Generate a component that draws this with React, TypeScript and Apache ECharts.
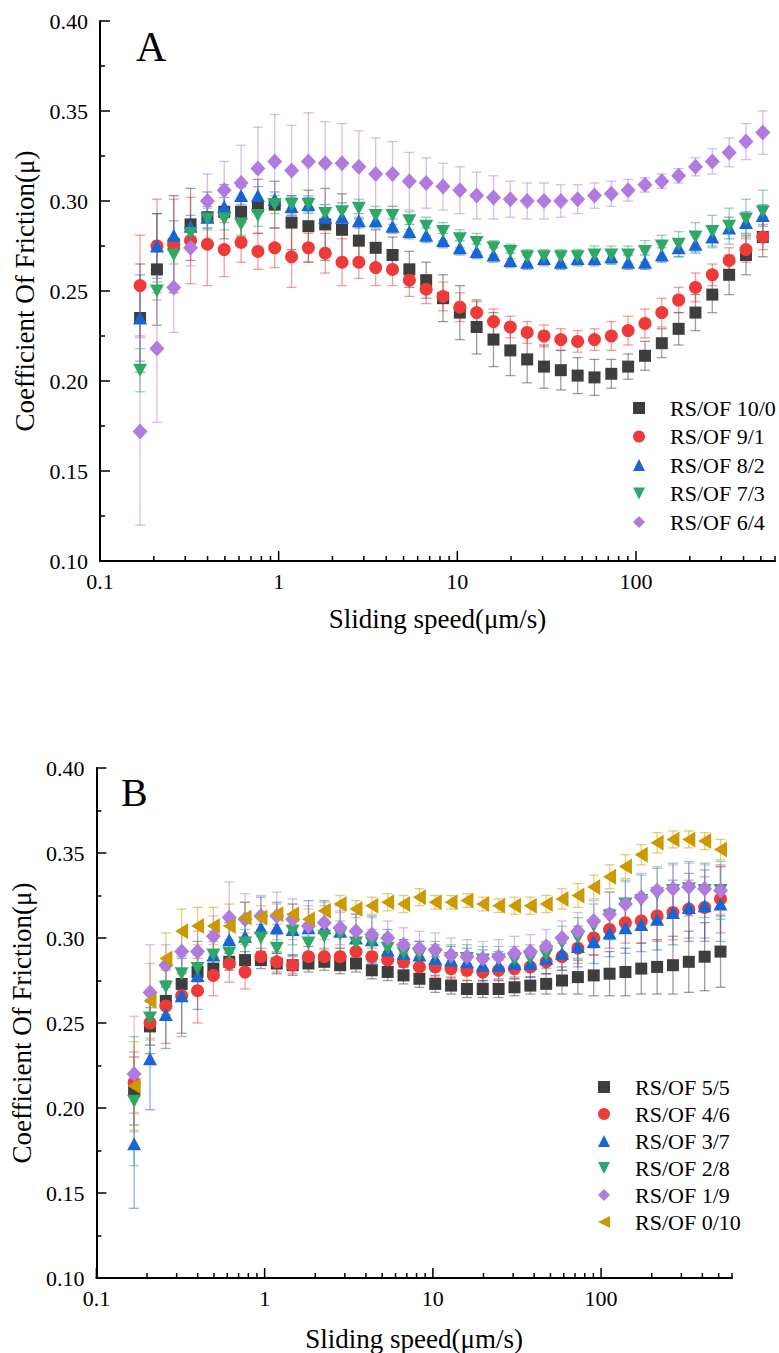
import React, { useEffect, useRef } from "react";
import * as echarts from "echarts";

const FONT = '"Liberation Serif", "Times New Roman", serif';

// Sliding speeds (µm/s), shared by both panels
const SPEEDS = [
  0.1676, 0.2083, 0.2587, 0.3212, 0.3992, 0.4958, 0.6161, 0.7651, 0.9504, 1.181,
  1.467, 1.822, 2.263, 2.811, 3.492, 4.338, 5.389, 6.694, 8.316, 10.33,
  12.83, 15.94, 19.8, 24.6, 30.56, 37.96, 47.15, 58.58, 72.77, 90.4,
  112.3, 139.5, 173.3, 215.3, 267.4, 332.2, 412.7, 512.7,
];

// Panel A
const A_10_0 = [0.235, 0.262, 0.276, 0.287, 0.291, 0.294, 0.294, 0.297, 0.298, 0.288, 0.286, 0.287, 0.284, 0.278, 0.274, 0.270, 0.262, 0.256, 0.246, 0.238, 0.230, 0.223, 0.217, 0.212, 0.208, 0.206, 0.203, 0.202, 0.204, 0.208, 0.214, 0.221, 0.229, 0.238, 0.248, 0.259, 0.270, 0.280];
const A_9_1 = [0.253, 0.275, 0.276, 0.278, 0.276, 0.273, 0.277, 0.272, 0.274, 0.269, 0.274, 0.271, 0.266, 0.266, 0.263, 0.262, 0.256, 0.251, 0.247, 0.241, 0.238, 0.233, 0.230, 0.227, 0.225, 0.223, 0.222, 0.223, 0.225, 0.228, 0.232, 0.238, 0.245, 0.252, 0.259, 0.267, 0.273, 0.280];
const A_8_2 = [0.235, 0.275, 0.281, 0.286, 0.291, 0.297, 0.303, 0.303, 0.301, 0.297, 0.298, 0.291, 0.291, 0.289, 0.289, 0.286, 0.283, 0.281, 0.278, 0.274, 0.272, 0.270, 0.267, 0.266, 0.268, 0.266, 0.268, 0.268, 0.269, 0.266, 0.266, 0.270, 0.274, 0.276, 0.280, 0.285, 0.288, 0.292];
const A_7_3 = [0.206, 0.250, 0.270, 0.282, 0.290, 0.290, 0.287, 0.292, 0.298, 0.298, 0.298, 0.293, 0.294, 0.296, 0.292, 0.292, 0.289, 0.286, 0.283, 0.279, 0.277, 0.274, 0.272, 0.269, 0.269, 0.269, 0.269, 0.270, 0.270, 0.270, 0.272, 0.275, 0.276, 0.280, 0.283, 0.286, 0.290, 0.294];
const A_6_4 = [0.172, 0.218, 0.252, 0.274, 0.300, 0.306, 0.310, 0.318, 0.322, 0.317, 0.322, 0.321, 0.321, 0.319, 0.315, 0.315, 0.311, 0.310, 0.308, 0.306, 0.303, 0.302, 0.301, 0.300, 0.300, 0.300, 0.301, 0.303, 0.304, 0.306, 0.309, 0.311, 0.314, 0.319, 0.322, 0.327, 0.333, 0.338];

const ERR_A_10_0 = [0.030, 0.031, 0.027, 0.020, 0.014, 0.015, 0.014, 0.015, 0.013, 0.015, 0.020, 0.020, 0.020, 0.012, 0.010, 0.010, 0.010, 0.010, 0.013, 0.015, 0.015, 0.015, 0.014, 0.013, 0.012, 0.011, 0.010, 0.010, 0.008, 0.007, 0.008, 0.008, 0.009, 0.010, 0.010, 0.011, 0.011, 0.011];
const ERR_A_9_1 = [0.028, 0.026, 0.025, 0.024, 0.023, 0.015, 0.011, 0.010, 0.011, 0.017, 0.008, 0.011, 0.013, 0.009, 0.010, 0.009, 0.009, 0.008, 0.008, 0.008, 0.006, 0.007, 0.006, 0.006, 0.006, 0.006, 0.006, 0.006, 0.008, 0.008, 0.008, 0.008, 0.007, 0.008, 0.006, 0.007, 0.007, 0.007];
const ERR_A_8_2 = [0.024, 0.018, 0.008, 0.006, 0.006, 0.005, 0.005, 0.005, 0.004, 0.005, 0.004, 0.004, 0.004, 0.004, 0.004, 0.004, 0.004, 0.004, 0.004, 0.004, 0.004, 0.004, 0.004, 0.004, 0.004, 0.004, 0.004, 0.004, 0.004, 0.004, 0.004, 0.004, 0.005, 0.005, 0.005, 0.006, 0.006, 0.006];
const ERR_A_7_3 = [0.012, 0.005, 0.005, 0.006, 0.006, 0.006, 0.006, 0.006, 0.005, 0.005, 0.005, 0.005, 0.005, 0.005, 0.005, 0.005, 0.005, 0.005, 0.005, 0.005, 0.005, 0.004, 0.004, 0.004, 0.004, 0.004, 0.004, 0.005, 0.005, 0.005, 0.006, 0.006, 0.007, 0.008, 0.009, 0.010, 0.011, 0.012];
const ERR_A_6_4 = [0.052, 0.041, 0.025, 0.010, 0.015, 0.016, 0.021, 0.023, 0.026, 0.025, 0.027, 0.023, 0.022, 0.020, 0.020, 0.018, 0.016, 0.014, 0.013, 0.013, 0.013, 0.012, 0.010, 0.010, 0.010, 0.009, 0.008, 0.007, 0.007, 0.006, 0.004, 0.004, 0.004, 0.005, 0.007, 0.008, 0.010, 0.012];

// Panel B
const B_5_5 = [0.210, 0.248, 0.263, 0.273, 0.280, 0.282, 0.286, 0.287, 0.287, 0.285, 0.284, 0.285, 0.286, 0.284, 0.285, 0.281, 0.280, 0.278, 0.276, 0.273, 0.272, 0.270, 0.270, 0.270, 0.271, 0.272, 0.273, 0.275, 0.277, 0.278, 0.279, 0.280, 0.282, 0.283, 0.284, 0.286, 0.289, 0.292];
const B_4_6 = [0.215, 0.250, 0.260, 0.266, 0.269, 0.278, 0.285, 0.280, 0.289, 0.286, 0.284, 0.289, 0.289, 0.289, 0.292, 0.289, 0.287, 0.286, 0.283, 0.283, 0.282, 0.281, 0.280, 0.281, 0.282, 0.283, 0.286, 0.289, 0.294, 0.300, 0.305, 0.309, 0.310, 0.313, 0.315, 0.317, 0.318, 0.323];
const B_3_7 = [0.179, 0.229, 0.255, 0.266, 0.278, 0.290, 0.299, 0.301, 0.306, 0.306, 0.305, 0.306, 0.306, 0.304, 0.300, 0.299, 0.293, 0.291, 0.290, 0.288, 0.287, 0.286, 0.284, 0.284, 0.285, 0.285, 0.288, 0.291, 0.295, 0.298, 0.303, 0.306, 0.308, 0.311, 0.315, 0.318, 0.319, 0.320];
const B_2_8 = [0.204, 0.253, 0.271, 0.279, 0.282, 0.290, 0.291, 0.297, 0.300, 0.294, 0.304, 0.297, 0.301, 0.302, 0.297, 0.297, 0.294, 0.291, 0.290, 0.290, 0.288, 0.288, 0.287, 0.287, 0.287, 0.288, 0.290, 0.297, 0.300, 0.307, 0.313, 0.320, 0.322, 0.326, 0.328, 0.329, 0.328, 0.328];
const B_1_9 = [0.220, 0.268, 0.284, 0.292, 0.292, 0.301, 0.312, 0.311, 0.313, 0.313, 0.311, 0.307, 0.309, 0.306, 0.304, 0.302, 0.300, 0.296, 0.294, 0.293, 0.290, 0.289, 0.288, 0.289, 0.291, 0.292, 0.295, 0.300, 0.304, 0.310, 0.314, 0.320, 0.324, 0.328, 0.329, 0.330, 0.329, 0.328];
const B_0_10 = [0.213, 0.263, 0.288, 0.304, 0.307, 0.307, 0.307, 0.312, 0.312, 0.314, 0.314, 0.311, 0.316, 0.320, 0.317, 0.319, 0.321, 0.320, 0.324, 0.321, 0.321, 0.322, 0.320, 0.319, 0.319, 0.319, 0.320, 0.323, 0.325, 0.330, 0.336, 0.342, 0.349, 0.356, 0.358, 0.358, 0.357, 0.352];

const ERR_B_5_5 = [0.020, 0.016, 0.008, 0.006, 0.005, 0.005, 0.005, 0.005, 0.005, 0.006, 0.006, 0.005, 0.005, 0.005, 0.005, 0.005, 0.005, 0.005, 0.005, 0.005, 0.005, 0.005, 0.005, 0.005, 0.005, 0.005, 0.006, 0.008, 0.010, 0.012, 0.013, 0.014, 0.015, 0.016, 0.017, 0.018, 0.020, 0.021];
const ERR_B_4_6 = [0.018, 0.013, 0.022, 0.024, 0.019, 0.012, 0.011, 0.010, 0.005, 0.006, 0.005, 0.006, 0.005, 0.005, 0.005, 0.005, 0.005, 0.005, 0.006, 0.006, 0.006, 0.006, 0.006, 0.006, 0.006, 0.006, 0.007, 0.008, 0.009, 0.010, 0.011, 0.012, 0.013, 0.015, 0.016, 0.017, 0.018, 0.020];
const ERR_B_3_7 = [0.038, 0.030, 0.020, 0.022, 0.020, 0.014, 0.010, 0.020, 0.018, 0.015, 0.015, 0.016, 0.016, 0.015, 0.014, 0.014, 0.012, 0.008, 0.008, 0.008, 0.008, 0.008, 0.009, 0.008, 0.008, 0.008, 0.009, 0.010, 0.012, 0.013, 0.014, 0.015, 0.016, 0.018, 0.019, 0.020, 0.021, 0.022];
const ERR_B_2_8 = [0.038, 0.016, 0.010, 0.010, 0.008, 0.008, 0.008, 0.008, 0.008, 0.008, 0.008, 0.008, 0.008, 0.008, 0.008, 0.008, 0.008, 0.008, 0.008, 0.008, 0.008, 0.008, 0.008, 0.008, 0.008, 0.008, 0.008, 0.010, 0.012, 0.013, 0.014, 0.014, 0.015, 0.015, 0.016, 0.016, 0.016, 0.017];
const ERR_B_1_9 = [0.034, 0.028, 0.012, 0.012, 0.012, 0.012, 0.021, 0.015, 0.012, 0.014, 0.012, 0.012, 0.010, 0.010, 0.010, 0.010, 0.010, 0.010, 0.010, 0.010, 0.010, 0.010, 0.010, 0.010, 0.010, 0.010, 0.010, 0.010, 0.011, 0.012, 0.013, 0.013, 0.014, 0.014, 0.014, 0.014, 0.014, 0.014];
const ERR_B_0_10 = [0.026, 0.022, 0.015, 0.013, 0.011, 0.011, 0.013, 0.009, 0.007, 0.006, 0.006, 0.006, 0.005, 0.005, 0.005, 0.005, 0.005, 0.005, 0.005, 0.004, 0.004, 0.004, 0.004, 0.004, 0.005, 0.005, 0.005, 0.006, 0.007, 0.007, 0.007, 0.007, 0.006, 0.006, 0.005, 0.005, 0.005, 0.006];

// Axis ticks / labels
const Y_MIN = 0.1;
const Y_MAX = 0.4;
const Y_STEP = 0.05;
const X_MIN = 0.1;
const X_MAX = 600;
const MAJOR_TICKS_X = [0.1, 1, 10, 100];
const MINOR_TICKS_X = [0.2, 0.3, 0.4, 0.5, 0.6, 0.7, 0.8, 0.9, 2, 3, 4, 5, 6, 7, 8, 9, 20, 30, 40, 50, 60, 70, 80, 90, 200, 300, 400, 500, 600];

const C_BLACK = "#3e3e3e";
const C_RED = "#ef3a3a";
const C_BLUE = "#1866d6";
const C_GREEN = "#2ea866";
const C_PURPLE = "#b07ade";
const C_GOLD = "#cc9900";

const SYM_DOWN = "path://M0,0L10,0L5,10Z";
const SYM_LEFT = "path://M10,0L10,10L0,5Z";

const SERIES_A = [
  { name: "RS/OF 10/0", values: A_10_0, errors: ERR_A_10_0, color: C_BLACK, symbol: "rect", size: 12 },
  { name: "RS/OF 9/1", values: A_9_1, errors: ERR_A_9_1, color: C_RED, symbol: "circle", size: 13 },
  { name: "RS/OF 8/2", values: A_8_2, errors: ERR_A_8_2, color: C_BLUE, symbol: "triangle", size: [14, 13] },
  { name: "RS/OF 7/3", values: A_7_3, errors: ERR_A_7_3, color: C_GREEN, symbol: SYM_DOWN, size: [14, 13] },
  { name: "RS/OF 6/4", values: A_6_4, errors: ERR_A_6_4, color: C_PURPLE, symbol: "diamond", size: [15, 16] },
];

const SERIES_B = [
  { name: "RS/OF 5/5", values: B_5_5, errors: ERR_B_5_5, color: C_BLACK, symbol: "rect", size: 12 },
  { name: "RS/OF 4/6", values: B_4_6, errors: ERR_B_4_6, color: C_RED, symbol: "circle", size: 13 },
  { name: "RS/OF 3/7", values: B_3_7, errors: ERR_B_3_7, color: C_BLUE, symbol: "triangle", size: [14, 13] },
  { name: "RS/OF 2/8", values: B_2_8, errors: ERR_B_2_8, color: C_GREEN, symbol: SYM_DOWN, size: [14, 13] },
  { name: "RS/OF 1/9", values: B_1_9, errors: ERR_B_1_9, color: C_PURPLE, symbol: "diamond", size: [15, 16] },
  { name: "RS/OF 0/10", values: B_0_10, errors: ERR_B_0_10, color: C_GOLD, symbol: SYM_LEFT, size: [13, 16] },
];

function errSeries(s: any, idx: number) {
  return {
    type: "custom",
    name: s.name + " error",
    xAxisIndex: idx,
    yAxisIndex: idx,
    silent: true,
    z: 2,
    data: SPEEDS.map((x, i) => [x, s.values[i], s.errors[i]]),
    encode: { x: 0, y: 1 },
    renderItem: (_p: any, api: any) => {
      const x = api.value(0);
      const y = api.value(1);
      const e = api.value(2);
      const top = api.coord([x, y + e]);
      const bot = api.coord([x, y - e]);
      const style = { stroke: s.color, lineWidth: 1.3, opacity: 0.5 };
      return {
        type: "group",
        children: [
          { type: "line", shape: { x1: top[0], y1: top[1], x2: bot[0], y2: bot[1] }, style },
          { type: "line", shape: { x1: top[0] - 5, y1: top[1], x2: top[0] + 5, y2: top[1] }, style },
          { type: "line", shape: { x1: bot[0] - 5, y1: bot[1], x2: bot[0] + 5, y2: bot[1] }, style },
        ],
      };
    },
  };
}

function scatterSeries(s: any, idx: number) {
  return {
    type: "scatter",
    name: s.name,
    xAxisIndex: idx,
    yAxisIndex: idx,
    z: 2,
    symbol: s.symbol,
    symbolSize: s.size,
    itemStyle: { color: s.color, opacity: 1 },
    data: SPEEDS.map((x, i) => [x, s.values[i]]),
  };
}

function tickSeries(idx: number) {
  const data = [
    ...MAJOR_TICKS_X.map((v) => [v, Y_MIN, 10]),
    ...MINOR_TICKS_X.map((v) => [v, Y_MIN, 5]),
  ];
  return {
    type: "custom",
    name: "ticks" + idx,
    xAxisIndex: idx,
    yAxisIndex: idx,
    silent: true,
    z: 5,
    data,
    encode: { x: 0, y: 1 },
    renderItem: (_p: any, api: any) => {
      const p = api.coord([api.value(0), api.value(1)]);
      const len = api.value(2);
      return {
        type: "line",
        shape: { x1: p[0], y1: p[1], x2: p[0], y2: p[1] - len },
        style: { stroke: "#000", lineWidth: 1.5 },
      };
    },
  };
}

function xAxis(idx: number, nameGap: number) {
  return {
    type: "log",
    logBase: 10,
    gridIndex: idx,
    min: X_MIN,
    max: X_MAX,
    name: "Sliding speed(μm/s)",
    nameLocation: "middle",
    nameGap,
    nameTextStyle: { fontFamily: FONT, fontSize: 27, color: "#000" },
    axisLine: { show: true, lineStyle: { color: "#000", width: 2 } },
    axisTick: { show: false },
    splitLine: { show: false },
    minorSplitLine: { show: false },
    axisLabel: {
      fontFamily: FONT,
      fontSize: 22,
      color: "#000",
      margin: 9,
      showMaxLabel: false,
      formatter: (v: number) => (v >= 1 ? String(Math.round(v)) : String(+v.toFixed(2))),
    },
  };
}

function yAxis(idx: number) {
  return {
    type: "value",
    gridIndex: idx,
    min: Y_MIN,
    max: Y_MAX,
    interval: Y_STEP,
    name: "Coefficient Of Friction(μ)",
    nameLocation: "middle",
    nameGap: 52,
    nameRotate: 90,
    nameTextStyle: { fontFamily: FONT, fontSize: 27, color: "#000" },
    axisLine: { show: true, lineStyle: { color: "#000", width: 2 } },
    axisTick: { show: true, inside: true, length: 10, lineStyle: { color: "#000", width: 1.5 } },
    minorTick: { show: true, splitNumber: 2, length: 5, lineStyle: { color: "#000", width: 1.5 } },
    splitLine: { show: false },
    minorSplitLine: { show: false },
    axisLabel: {
      fontFamily: FONT,
      fontSize: 22,
      color: "#000",
      margin: 12,
      formatter: (v: number) => v.toFixed(2),
    },
  };
}

function legend(names: string[], left: number, top: number, gap: number) {
  return {
    orient: "vertical",
    left,
    top,
    padding: 0,
    itemWidth: 12,
    itemHeight: 12,
    itemGap: gap,
    data: names,
    selectedMode: false,
    textStyle: { fontFamily: FONT, fontSize: 22, color: "#000", padding: [0, 0, 0, 20] },
  };
}

export default function App() {
  const ref = useRef<HTMLDivElement>(null);
  useEffect(() => {
    if (!ref.current) return;
    const chart = echarts.init(ref.current, undefined, { renderer: "svg" });
    const series: any[] = [];
    SERIES_A.forEach((s) => {
      series.push(errSeries(s, 0));
      series.push(scatterSeries(s, 0));
    });
    SERIES_B.forEach((s) => {
      series.push(errSeries(s, 1));
      series.push(scatterSeries(s, 1));
    });
    series.push(tickSeries(0));
    series.push(tickSeries(1));

    chart.setOption({
      animation: false,
      backgroundColor: "#fff",
      grid: [
        { left: 100, top: 21, width: 675, height: 540 },
        { left: 92, top: 768, width: 640, height: 510 },
      ],
      xAxis: [xAxis(0, 44), xAxis(1, 47)],
      yAxis: [yAxis(0), yAxis(1)],
      legend: [
        legend(SERIES_A.map((s) => s.name), 633, 397, 6.5),
        legend(SERIES_B.map((s) => s.name), 598, 1076, 5),
      ],
      graphic: [
        { type: "text", x: 136, y: 47, style: { text: "A", font: `42px ${FONT}`, fill: "#000", align: "left", verticalAlign: "middle" } },
        { type: "text", x: 121, y: 792, style: { text: "B", font: `40px ${FONT}`, fill: "#000", align: "left", verticalAlign: "middle" } },
      ],
      series,
    });
    return () => chart.dispose();
  }, []);
  return (
    <div
      ref={ref}
      style={{ position: "absolute", left: 0, top: 0, width: 779, height: 1353, background: "#fff" }}
    />
  );
}
